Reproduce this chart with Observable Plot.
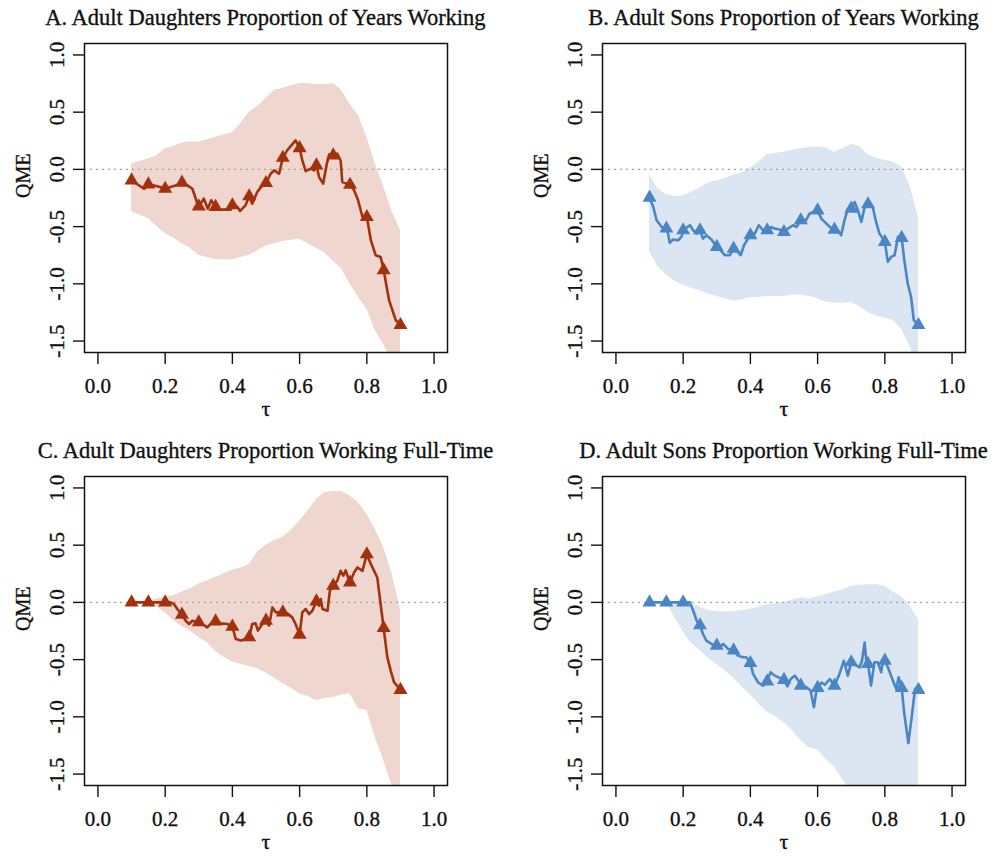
<!DOCTYPE html>
<html><head><meta charset="utf-8">
<script src="https://cdn.jsdelivr.net/npm/d3@7"></script>
<script src="https://cdn.jsdelivr.net/npm/@observablehq/plot@0.6"></script>
<style>
body{margin:0;background:#fff;}
#wrap{position:relative;width:995px;height:859px;font-family:"Liberation Serif",serif;background:#fff;}
.panel{position:absolute;width:477px;height:424px;}
.title{position:absolute;top:0;left:265.5px;transform:translateX(-50%);white-space:nowrap;font-size:22.5px;line-height:36px;height:36px;color:#111;-webkit-text-stroke:0.35px #111;}
.panel svg{position:absolute;top:36px;left:0;}
.panel svg text{stroke:#111;stroke-width:0.35px;}
</style></head><body><div id="wrap"></div>
<script>
// Axis ticks
const xTicks = [0, 0.2, 0.4, 0.6, 0.8, 1.0];
const yTicks = [-1.5, -1.0, -0.5, 0.0, 0.5, 1.0];
const markerTau = [0.1,0.15,0.2,0.25,0.3,0.35,0.4,0.45,0.5,0.55,0.6,0.65,0.7,0.75,0.8,0.85,0.9];
const bandTau = [0.1,0.125,0.15,0.175,0.2,0.225,0.25,0.275,0.3,0.325,0.35,0.375,0.4,0.425,0.45,0.475,0.5,0.525,0.55,0.575,0.6,0.625,0.65,0.675,0.7,0.725,0.75,0.775,0.8,0.825,0.85,0.875,0.9];

const titles = ["A. Adult Daughters Proportion of Years Working","B. Adult Sons Proportion of Years Working","C. Adult Daughters Proportion Working Full-Time","D. Adult Sons Proportion Working Full-Time"];

// Panel A
const tauA = [0.100,0.137,0.150,0.177,0.200,0.216,0.231,0.250,0.266,0.281,0.296,0.300,0.315,0.327,0.337,0.350,0.365,0.395,0.400,0.415,0.423,0.439,0.450,0.459,0.474,0.489,0.500,0.514,0.524,0.539,0.550,0.563,0.588,0.600,0.608,0.618,0.633,0.643,0.650,0.658,0.670,0.681,0.688,0.700,0.712,0.722,0.727,0.750,0.762,0.774,0.787,0.800,0.812,0.826,0.841,0.850,0.866,0.876,0.886,0.900];
const qmeA = [-0.096,-0.169,-0.131,-0.148,-0.169,-0.154,-0.140,-0.116,-0.140,-0.169,-0.300,-0.323,-0.256,-0.343,-0.270,-0.328,-0.352,-0.352,-0.314,-0.328,-0.363,-0.314,-0.235,-0.300,-0.198,-0.140,-0.119,-0.038,-0.009,-0.038,0.102,0.166,0.253,0.186,0.078,-0.015,0.006,-0.009,0.035,-0.067,-0.125,0.049,0.131,0.122,0.137,0.078,-0.110,-0.134,-0.183,-0.270,-0.416,-0.416,-0.619,-0.750,-0.765,-0.880,-1.142,-1.230,-1.317,-1.360];
const hiA = [0.05,0.07,0.09,0.12,0.18,0.20,0.23,0.24,0.24,0.26,0.28,0.30,0.32,0.40,0.50,0.55,0.62,0.69,0.71,0.73,0.75,0.75,0.74,0.74,0.75,0.69,0.57,0.47,0.28,0.05,-0.15,-0.37,-0.53];
const loA = [-0.37,-0.40,-0.43,-0.50,-0.56,-0.60,-0.65,-0.69,-0.75,-0.77,-0.79,-0.79,-0.79,-0.77,-0.75,-0.71,-0.67,-0.65,-0.63,-0.62,-0.61,-0.65,-0.69,-0.73,-0.80,-0.87,-1.00,-1.12,-1.22,-1.41,-1.53,-1.68,-1.85];

// Panel B
const tauB = [0.100,0.111,0.121,0.136,0.150,0.155,0.160,0.170,0.185,0.195,0.200,0.210,0.220,0.230,0.240,0.250,0.259,0.269,0.284,0.300,0.309,0.324,0.339,0.350,0.358,0.371,0.381,0.393,0.400,0.413,0.425,0.438,0.450,0.462,0.472,0.487,0.500,0.512,0.527,0.537,0.550,0.561,0.576,0.586,0.600,0.611,0.621,0.636,0.650,0.660,0.670,0.680,0.690,0.700,0.710,0.720,0.730,0.740,0.750,0.764,0.774,0.784,0.794,0.800,0.809,0.819,0.829,0.839,0.850,0.858,0.868,0.878,0.886,0.900];
const qmeB = [-0.247,-0.328,-0.445,-0.503,-0.517,-0.561,-0.642,-0.613,-0.619,-0.590,-0.532,-0.509,-0.488,-0.532,-0.561,-0.532,-0.605,-0.576,-0.613,-0.677,-0.700,-0.750,-0.750,-0.692,-0.706,-0.750,-0.663,-0.605,-0.576,-0.561,-0.488,-0.532,-0.532,-0.503,-0.517,-0.526,-0.547,-0.517,-0.488,-0.503,-0.445,-0.468,-0.387,-0.372,-0.358,-0.430,-0.459,-0.503,-0.526,-0.532,-0.576,-0.445,-0.343,-0.343,-0.285,-0.358,-0.459,-0.328,-0.305,-0.328,-0.459,-0.561,-0.605,-0.634,-0.808,-0.765,-0.750,-0.590,-0.599,-0.794,-0.997,-1.113,-1.317,-1.360];
const hiB = [-0.05,-0.17,-0.22,-0.235,-0.23,-0.20,-0.16,-0.12,-0.10,-0.08,-0.05,-0.03,0.01,0.065,0.13,0.14,0.15,0.17,0.18,0.195,0.195,0.19,0.15,0.18,0.22,0.20,0.13,0.10,0.08,0.065,0.02,-0.14,-0.42];
const loB = [-0.72,-0.85,-0.92,-0.98,-1.01,-1.04,-1.06,-1.09,-1.11,-1.13,-1.15,-1.14,-1.12,-1.12,-1.11,-1.11,-1.11,-1.10,-1.10,-1.11,-1.13,-1.16,-1.17,-1.17,-1.16,-1.20,-1.25,-1.28,-1.30,-1.32,-1.40,-1.55,-1.75];

// Panel C
const tauC = [0.100,0.150,0.200,0.216,0.226,0.236,0.250,0.261,0.271,0.281,0.300,0.311,0.325,0.335,0.350,0.365,0.385,0.400,0.410,0.425,0.450,0.459,0.469,0.476,0.489,0.500,0.509,0.519,0.529,0.550,0.563,0.578,0.588,0.600,0.608,0.618,0.628,0.638,0.650,0.658,0.663,0.668,0.683,0.690,0.700,0.712,0.722,0.730,0.737,0.744,0.750,0.762,0.772,0.787,0.800,0.812,0.831,0.841,0.850,0.861,0.871,0.881,0.900];
const qmeC = [0,0,0,0,-0.015,-0.058,-0.107,-0.160,-0.189,-0.160,-0.174,-0.189,-0.218,-0.189,-0.166,-0.183,-0.189,-0.212,-0.320,-0.334,-0.305,-0.189,-0.183,-0.247,-0.189,-0.160,-0.203,-0.044,-0.087,-0.087,-0.096,-0.131,-0.189,-0.282,-0.087,-0.058,-0.102,-0.073,0.009,-0.029,0.029,-0.058,-0.073,0.102,0.145,0.189,0.276,0.233,0.280,0.218,0.174,0.262,0.305,0.276,0.420,0.334,0.218,-0.015,-0.224,-0.480,-0.596,-0.698,-0.765];
const hiC = [0.0,0.0,0.005,0.03,0.045,0.06,0.09,0.12,0.16,0.19,0.22,0.25,0.28,0.30,0.33,0.44,0.50,0.54,0.57,0.63,0.71,0.80,0.90,0.96,0.97,0.97,0.93,0.87,0.77,0.64,0.48,0.25,-0.06];
const loC = [0.0,0.0,-0.005,-0.04,-0.09,-0.16,-0.21,-0.25,-0.31,-0.35,-0.43,-0.48,-0.52,-0.54,-0.56,-0.58,-0.62,-0.66,-0.71,-0.75,-0.80,-0.82,-0.86,-0.84,-0.83,-0.81,-0.80,-0.93,-0.945,-1.18,-1.38,-1.60,-1.80];

// Panel D
const tauD = [0.100,0.150,0.200,0.220,0.230,0.240,0.250,0.259,0.269,0.284,0.300,0.309,0.319,0.334,0.350,0.363,0.378,0.388,0.400,0.408,0.423,0.438,0.450,0.460,0.472,0.487,0.500,0.510,0.520,0.532,0.542,0.550,0.566,0.579,0.589,0.596,0.600,0.611,0.621,0.636,0.650,0.665,0.678,0.690,0.700,0.715,0.725,0.732,0.740,0.745,0.750,0.759,0.769,0.779,0.789,0.794,0.800,0.809,0.824,0.834,0.841,0.850,0.858,0.870,0.880,0.890,0.900];
const qmeD = [0,0,0,0,-0.073,-0.160,-0.200,-0.276,-0.334,-0.363,-0.378,-0.392,-0.363,-0.407,-0.420,-0.465,-0.480,-0.480,-0.530,-0.625,-0.700,-0.727,-0.690,-0.610,-0.640,-0.660,-0.677,-0.735,-0.670,-0.640,-0.680,-0.727,-0.740,-0.770,-0.916,-0.780,-0.747,-0.700,-0.720,-0.670,-0.727,-0.625,-0.510,-0.640,-0.523,-0.550,-0.567,-0.510,-0.350,-0.520,-0.538,-0.727,-0.523,-0.523,-0.610,-0.523,-0.509,-0.567,-0.683,-0.756,-0.654,-0.747,-0.974,-1.230,-1.000,-0.756,-0.765];
const hiD = [0,0,0,0,0,-0.01,-0.04,-0.07,-0.08,-0.085,-0.08,-0.07,-0.06,-0.04,-0.02,-0.015,0.0,0.02,0.04,0.03,0.05,0.07,0.09,0.11,0.14,0.15,0.155,0.155,0.14,0.09,0.05,-0.03,-0.15];
const loD = [0,0,0,-0.13,-0.26,-0.36,-0.42,-0.49,-0.54,-0.60,-0.66,-0.74,-0.81,-0.89,-0.96,-1.00,-1.05,-1.12,-1.21,-1.27,-1.29,-1.37,-1.44,-1.55,-1.65,-1.70,-1.75,-1.80,-1.85,-1.90,-1.95,-2.0,-2.05];

const red = "#A2310D", redBand = "#EFD6CF";
const blue = "#4A86C6", blueBand = "#DCE6F2";

const xDomain = [-0.04, 1.04];
const yDomain = [-1.6, 1.1];
const fmt = d => d.toFixed(1);

function makePanel(title, tau, qme, lo, hi, lineColor, bandColor, left, top) {
  const line = tau.map((t, i) => ({tau: t, qme: qme[i]}));
  const markers = line.filter(d => markerTau.some(m => Math.abs(m - d.tau) < 1e-9));
  const band = bandTau.map((t, i) => ({tau: t, lo: lo[i], hi: hi[i]}));
  const svg = Plot.plot({
    width: 477, height: 388,
    marginLeft: 84, marginRight: 30, marginTop: 7, marginBottom: 72,
    style: {fontFamily: '"Liberation Serif", serif', background: "white", color: "#111", overflow: "visible"},
    x: {domain: xDomain},
    y: {domain: yDomain},
    marks: [
      Plot.areaY(band, {x: "tau", y1: "lo", y2: "hi", fill: bandColor, clip: true}),
      Plot.ruleY([0], {stroke: "#a3a3a3", strokeDasharray: "2,4", strokeWidth: 1.4}),
      Plot.line(line, {x: "tau", y: "qme", stroke: lineColor, strokeWidth: 2.6, clip: true}),
      Plot.dot(markers, {x: "tau", y: "qme", symbol: "triangle", r: 5.2, fill: lineColor}),
      Plot.frame({stroke: "#111", strokeWidth: 1.5}),
      Plot.axisX({ticks: xTicks, tickSize: 12, tickPadding: 14, tickFormat: fmt, fontSize: 21, strokeWidth: 1.4, label: null}),
      Plot.axisY({ticks: yTicks, tickSize: 11, tickPadding: 10, tickRotate: -90, tickFormat: fmt, fontSize: 21, strokeWidth: 1.4, label: null}),
      Plot.text(["QME"], {frameAnchor: "left", rotate: -90, dx: -61, fontSize: 20}),
      Plot.text(["τ"], {frameAnchor: "bottom", dy: 63, fontSize: 22})
    ]
  });
  const div = document.createElement("div");
  div.className = "panel";
  div.style.left = left + "px";
  div.style.top = top + "px";
  const t = document.createElement("div");
  t.className = "title";
  t.textContent = title;
  div.appendChild(t);
  div.appendChild(svg);
  document.getElementById("wrap").appendChild(div);
}

makePanel(titles[0], tauA, qmeA, loA, hiA, red, redBand, 0, 0);
makePanel(titles[1], tauB, qmeB, loB, hiB, blue, blueBand, 518, 0);
makePanel(titles[2], tauC, qmeC, loC, hiC, red, redBand, 0, 433);
makePanel(titles[3], tauD, qmeD, loD, hiD, blue, blueBand, 518, 433);
</script>
</body></html>
